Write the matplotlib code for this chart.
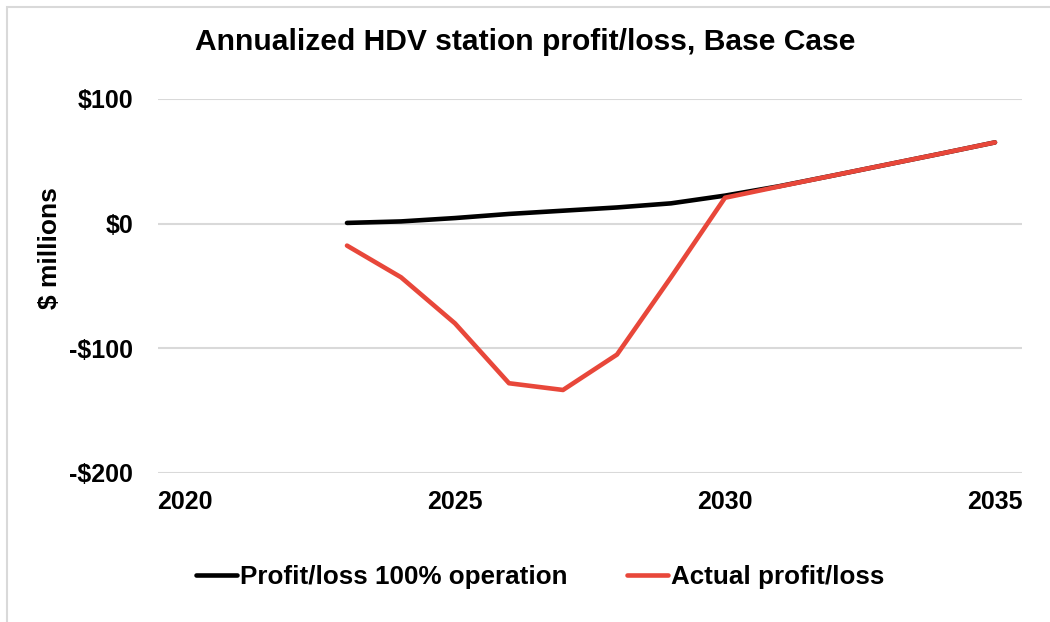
import matplotlib
matplotlib.use("Agg")
import matplotlib.pyplot as plt
from matplotlib.patches import Rectangle

years = [2023, 2024, 2025, 2026, 2027, 2028, 2029, 2030, 2031, 2032, 2033, 2034, 2035]
profit_full = [0.6, 1.8, 4.5, 7.8, 10.4, 13.0, 16.3, 22.5, 30.0, 38.6, 47.4, 56.2, 65.2]
profit_actual = [-17.6, -43.0, -80.0, -128.0, -133.4, -105.0, -43.0, 20.8, 29.8, 38.6, 47.4, 56.2, 65.2]
xticks = [2020, 2025, 2030, 2035]
yticks = [-200, -100, 0, 100]
ytick_labels = ["-$200", "-$100", "$0", "$100"]

plt.rcParams['font.family'] = ['Liberation Sans', 'DejaVu Sans']
plt.rcParams['font.weight'] = 'bold'

W, H = 1050, 622
fig = plt.figure(figsize=(W / 100, H / 100), dpi=100)
fig.patch.set_facecolor('white')

# chart-area border (only top/left visible)
fig.patches.append(Rectangle((7 / W, -0.05), 1.2, 1 - 7 / H + 0.05, transform=fig.transFigure,
                             fill=False, edgecolor='#D9D9D9', linewidth=1.5))

ax = fig.add_axes([158 / W, 1 - 473 / H, (1022 - 158) / W, (473 - 99) / H])
ax.set_xlim(2019.5, 2035.5)
ax.set_ylim(-200, 100)
for s in ax.spines.values():
    s.set_visible(False)
ax.set_yticks(yticks)
ax.set_yticklabels(ytick_labels)
ax.set_xticks(xticks)
ax.tick_params(axis='both', length=0, labelsize=18, colors='black')
ax.tick_params(axis='y', pad=18)
ax.tick_params(axis='x', pad=12)
for lab in ax.get_xticklabels() + ax.get_yticklabels():
    lab.set_fontweight('bold')
ax.grid(axis='y', color='#D9D9D9', linewidth=1.5)
ax.set_axisbelow(True)

ax.plot(years, profit_full, color='black', linewidth=3.3, solid_capstyle='round',
        label='Profit/loss 100% operation', zorder=3)
ax.plot(years, profit_actual, color='#E8473A', linewidth=3.3, solid_capstyle='round',
        label='Actual profit/loss', zorder=4)

fig.text(525 / W, 1 - 42 / H, 'Annualized HDV station profit/loss, Base Case',
         ha='center', va='center', fontsize=21.6, fontweight='bold')
fig.text(50 / W, 1 - 248 / H, '$ millions', rotation=90, ha='center', va='center',
         fontsize=19, fontweight='bold')

leg = fig.legend(loc='center', bbox_to_anchor=(540 / W, 1 - 577 / H), ncol=2, frameon=False,
                 handlelength=1.6, handletextpad=0.1, columnspacing=2.3,
                 prop={'weight': 'bold', 'size': 18.7})

fig.savefig('out.png', dpi=100)
